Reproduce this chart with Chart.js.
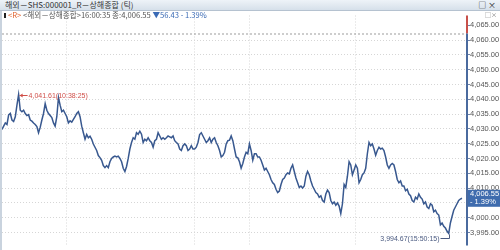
<!DOCTYPE html>
<html>
<head>
<meta charset="utf-8">
<script src="https://cdn.jsdelivr.net/npm/chart.js@4/dist/chart.umd.min.js"></script>
<style>
    html, body { margin: 0; padding: 0; background: #fff; }
    #wrap { position: relative; width: 500px; height: 250px; overflow: hidden; background: #fff;
            font-family: "Noto Sans CJK KR", "Liberation Sans", sans-serif; }
    #title { position: absolute; left: 0; top: 0; width: 500px; height: 10px;
             background: linear-gradient(#eef3f8, #d6e0ea); border-bottom: 1px solid #b5c2d0;
             font-size: 8px; line-height: 10px; color: #333; }
    #title .t { position: absolute; left: 5px; top: 0; }
    #title .btns { position: absolute; right: 4px; top: 0; font-size: 8px; color: #222; }
    #legend { position: absolute; left: 4px; top: 10px; font-size: 7.6px; line-height: 9px; color: #555; white-space: nowrap; z-index: 2; }
    #legend .sq { display: inline-block; width: 2px; height: 5px; background: #222; margin-right: 2px; vertical-align: middle; }
    #legend .r { color: #e0602a; }
    #legend .dn { color: #3b6bb5; }
    #mini { position: absolute; right: 3px; top: 11px; font-size: 6px; line-height: 7px; color: #777; z-index: 2; }
    #leftbar { position: absolute; left: 0; top: 11px; width: 2px; height: 239px; background: #c9d3de; z-index: 2; }
    #box { position: absolute; left: 0; top: 11px; width: 500px; height: 239px; }
</style>
</head>
<body>
<div id="wrap">
    <div id="title"><span class="t">해외－SHS:000001_R－상해종합 (틱)</span><span class="btns">□ ×</span></div>
    <div id="legend"><span class="sq"></span><span class="r">&lt;R&gt;</span> &lt;해외－상해종합&gt;16:00:35 종:4,006.55 <span class="dn">▼56.43 - 1.39%</span></div>
    <div id="mini">□×</div>
    <div id="leftbar"></div>
    <div id="box"><canvas id="c"></canvas></div>
</div>
<script>
// tick prices left to right
const seg1 = [
    4029.8, 4030.9, 4032.0, 4031.5, 4034.7, 4035.2, 4033.0, 4032.5, 4034.1, 4038.0,
    4041.61, 4036.3, 4035.8, 4036.3, 4035.2, 4034.5, 4034.8, 4033.0, 4032.6, 4032.0,
    4031.5, 4030.8, 4028.7, 4030.5, 4033.0, 4035.2, 4038.5, 4036.3, 4035.2, 4034.5,
    4033.8, 4032.0, 4030.9, 4034.1, 4040.6, 4038.0, 4035.8, 4036.3, 4035.2, 4034.1,
    4032.0, 4032.7, 4032.3, 4033.2, 4034.1, 4035.2, 4035.8, 4034.1, 4030.9, 4028.7,
    4026.5, 4028.1, 4027.0, 4027.5, 4026.5, 4024.9, 4023.8, 4022.7, 4021.0, 4020.3,
    4019.4, 4017.6, 4016.9, 4017.6, 4016.9, 4018.9, 4020.0
];
const seg2 = [
    4020.5, 4020.8, 4020.5, 4020.8, 4020.0, 4018.9, 4016.7, 4015.6, 4017.3, 4020.0,
    4023.2, 4025.4, 4027.0, 4026.5, 4028.7, 4028.2, 4029.2, 4028.2, 4025.4, 4026.5,
    4026.0, 4027.0, 4026.0, 4025.4, 4023.8, 4026.0, 4026.5, 4028.7, 4027.6, 4026.5,
    4027.0, 4026.5, 4027.0, 4027.6, 4027.3, 4027.0, 4027.6, 4026.0, 4025.4, 4024.9,
    4023.2, 4022.7, 4024.3, 4024.9, 4024.3, 4022.7, 4023.2, 4024.3, 4023.2, 4023.2,
    4023.8, 4025.4, 4028.1, 4028.7, 4027.6, 4026.5, 4025.4, 4026.0, 4027.0, 4025.4,
    4026.5, 4027.0, 4025.4, 4024.3, 4022.7, 4020.5
];
const seg3 = [
    4021.0, 4022.1, 4024.9, 4026.0, 4026.2, 4027.6, 4026.0, 4023.2, 4020.5, 4020.2,
    4018.9, 4016.7, 4018.3, 4020.5, 4022.1, 4021.6, 4024.9, 4022.7, 4019.4, 4021.6,
    4021.6, 4020.5, 4020.5, 4019.4, 4017.8, 4016.1, 4016.7, 4015.6, 4014.5, 4012.9,
    4011.8, 4011.2, 4009.6, 4008.5, 4009.0, 4011.2, 4012.9, 4013.4, 4014.5, 4015.1,
    4014.8, 4016.7, 4017.8, 4015.6, 4013.4, 4011.8, 4010.2, 4010.7, 4010.0, 4010.7,
    4014.0, 4015.6, 4014.5, 4012.4, 4010.7, 4009.6, 4008.5, 4008.0, 4006.9, 4007.4,
    4005.8, 4005.3, 4008.0, 4009.3, 4008.5, 4005.8, 4004.7, 4005.3, 4004.2, 4005.0,
    4003.9, 4001.4
];
const seg4 = [
    4004.7, 4011.2, 4010.2, 4014.0, 4018.9, 4017.8, 4014.5, 4016.1, 4017.8, 4016.7,
    4011.8, 4012.9, 4014.5, 4015.1, 4016.7, 4021.6, 4025.4, 4024.3, 4024.9, 4023.2,
    4021.1, 4022.7, 4023.8, 4023.2, 4023.5, 4022.7, 4020.5, 4017.8, 4016.7, 4017.8,
    4018.3, 4017.8, 4015.6, 4012.9, 4011.8, 4012.4, 4010.7, 4010.7, 4009.1, 4009.6,
    4008.0, 4007.4, 4005.8, 4005.3, 4006.9, 4006.3, 4008.0, 4006.9, 4006.3, 4004.7,
    4005.3, 4003.6, 4003.1, 4004.7, 4004.2, 4002.0, 4002.5, 4001.4, 4000.9, 3997.6,
    3998.2, 3997.1, 3996.5, 3995.4, 3994.67, 3998.2, 4000.4, 4002.5, 4003.6, 4004.7,
    4005.8, 4006.3, 4006.55
];
const prices = [...seg1, ...seg2, ...seg3, ...seg4];

const yTicks = [3995, 4000, 4005, 4010, 4015, 4020, 4025, 4030, 4035, 4040, 4045, 4050, 4055, 4060, 4065];
const yMin = 3990.6, yMax = 4068.3;
const gridIdx = [39, 116, 149, 213];   // vertical time lines
const hiTime = '10:38:25';
const loTime = '15:50:15';
const chgPct = -1.39;

const fmt = v => Number(v).toLocaleString('en-US', { minimumFractionDigits: 2, maximumFractionDigits: 2 });

const deco = {
    id: 'deco',
    afterDraw(chart) {
        const { ctx, chartArea: a, scales: { x, y } } = chart;
        ctx.save();

        // dotted separator under legend
        ctx.strokeStyle = '#9c9c9c';
        ctx.lineWidth = 1;
        ctx.setLineDash([2, 2]);
        ctx.beginPath();
        ctx.moveTo(a.left, a.top + 18.5);
        ctx.lineTo(a.right, a.top + 18.5);
        ctx.stroke();
        ctx.setLineDash([]);

        // right axis line
        ctx.lineWidth = 2;
        ctx.strokeStyle = '#c8504a';
        ctx.beginPath();
        ctx.moveTo(a.right, a.top);
        ctx.lineTo(a.right, a.top + 18);
        ctx.stroke();
        ctx.strokeStyle = '#4a6a9e';
        ctx.beginPath();
        ctx.moveTo(a.right, a.top + 18);
        ctx.lineTo(a.right, a.bottom);
        ctx.stroke();

        ctx.lineWidth = 1;
        ctx.font = '7px "Liberation Sans"';
        ctx.textBaseline = 'middle';

        // high marker
        const hi = Math.max(...prices), hiI = prices.indexOf(hi);
        const hx = x.getPixelForValue(hiI), hy = Math.round(y.getPixelForValue(hi)) + 0.5;
        ctx.strokeStyle = ctx.fillStyle = '#d0504a';
        ctx.beginPath();
        ctx.moveTo(hx + 1, hy);
        ctx.lineTo(hx + 9, hy);
        ctx.stroke();
        ctx.beginPath();
        ctx.moveTo(hx + 1, hy);
        ctx.lineTo(hx + 4, hy - 2);
        ctx.lineTo(hx + 4, hy + 2);
        ctx.fill();
        ctx.textAlign = 'left';
        ctx.fillText(fmt(hi) + '(' + hiTime + ')', hx + 10, hy + 0.5);

        // low marker
        const lo = Math.min(...prices), loI = prices.indexOf(lo);
        const lx = Math.round(x.getPixelForValue(loI)) + 0.5, ly = y.getPixelForValue(lo);
        ctx.strokeStyle = '#4a5a80';
        ctx.fillStyle = '#4a5a80';
        ctx.beginPath();
        ctx.moveTo(lx, ly + 1);
        ctx.lineTo(lx, Math.round(ly + 5) + 0.5);
        ctx.lineTo(lx - 9, Math.round(ly + 5) + 0.5);
        ctx.stroke();
        ctx.textAlign = 'right';
        ctx.fillText(fmt(lo) + '(' + loTime + ')', lx - 10, ly + 5.5);

        // last price box
        const last = prices[prices.length - 1];
        const py = y.getPixelForValue(last);
        ctx.fillStyle = '#3f6cae';
        ctx.fillRect(a.right + 1, py - 8.5, chart.width - a.right - 1, 17);
        ctx.fillStyle = '#fff';
        ctx.textAlign = 'left';
        ctx.font = '7.5px "Liberation Sans"';
        ctx.fillText(fmt(last), a.right + 3, py - 4);
        ctx.fillText('- ' + Math.abs(chgPct).toFixed(2) + '%', a.right + 3, py + 4);

        ctx.restore();
    }
};

const ctx = document.getElementById('c').getContext('2d');
new Chart(ctx, {
    type: 'line',
    data: {
        datasets: [{
            data: prices.map((v, i) => ({ x: i, y: v })),
            borderColor: '#38588f',
            borderWidth: 1.5,
            pointRadius: 0,
            tension: 0,
            fill: false,
        }]
    },
    options: {
        responsive: true,
        maintainAspectRatio: false,
        animation: false,
        layout: { padding: { left: 2, right: 1, top: 1, bottom: 0 } },
        plugins: { legend: { display: false }, tooltip: { enabled: false } },
        scales: {
            x: {
                type: 'linear',
                min: 0,
                max: prices.length + 2,
                afterBuildTicks: s => { s.ticks = gridIdx.map(v => ({ value: v })); },
                ticks: { display: false },
                grid: { color: '#d6d6d6', drawTicks: false },
                border: { display: false, dash: [1, 2] }
            },
            y: {
                position: 'right',
                min: yMin,
                max: yMax,
                afterBuildTicks: s => { s.ticks = yTicks.map(v => ({ value: v })); },
                afterFit: s => { s.width = 32; },
                ticks: {
                    color: '#555',
                    padding: 0,
                    font: { family: 'Liberation Sans', size: 7.5 },
                    callback: v => fmt(v)
                },
                grid: {
                    color: c => (c.tick && c.tick.value === 4065) ? 'rgba(0,0,0,0)' : '#d6d6d6',
                    tickColor: '#6f84aa',
                    tickLength: 3,
                    tickBorderDash: []
                },
                border: { display: false, dash: [1, 2] }
            }
        }
    },
    plugins: [deco]
});
</script>
</body>
</html>
